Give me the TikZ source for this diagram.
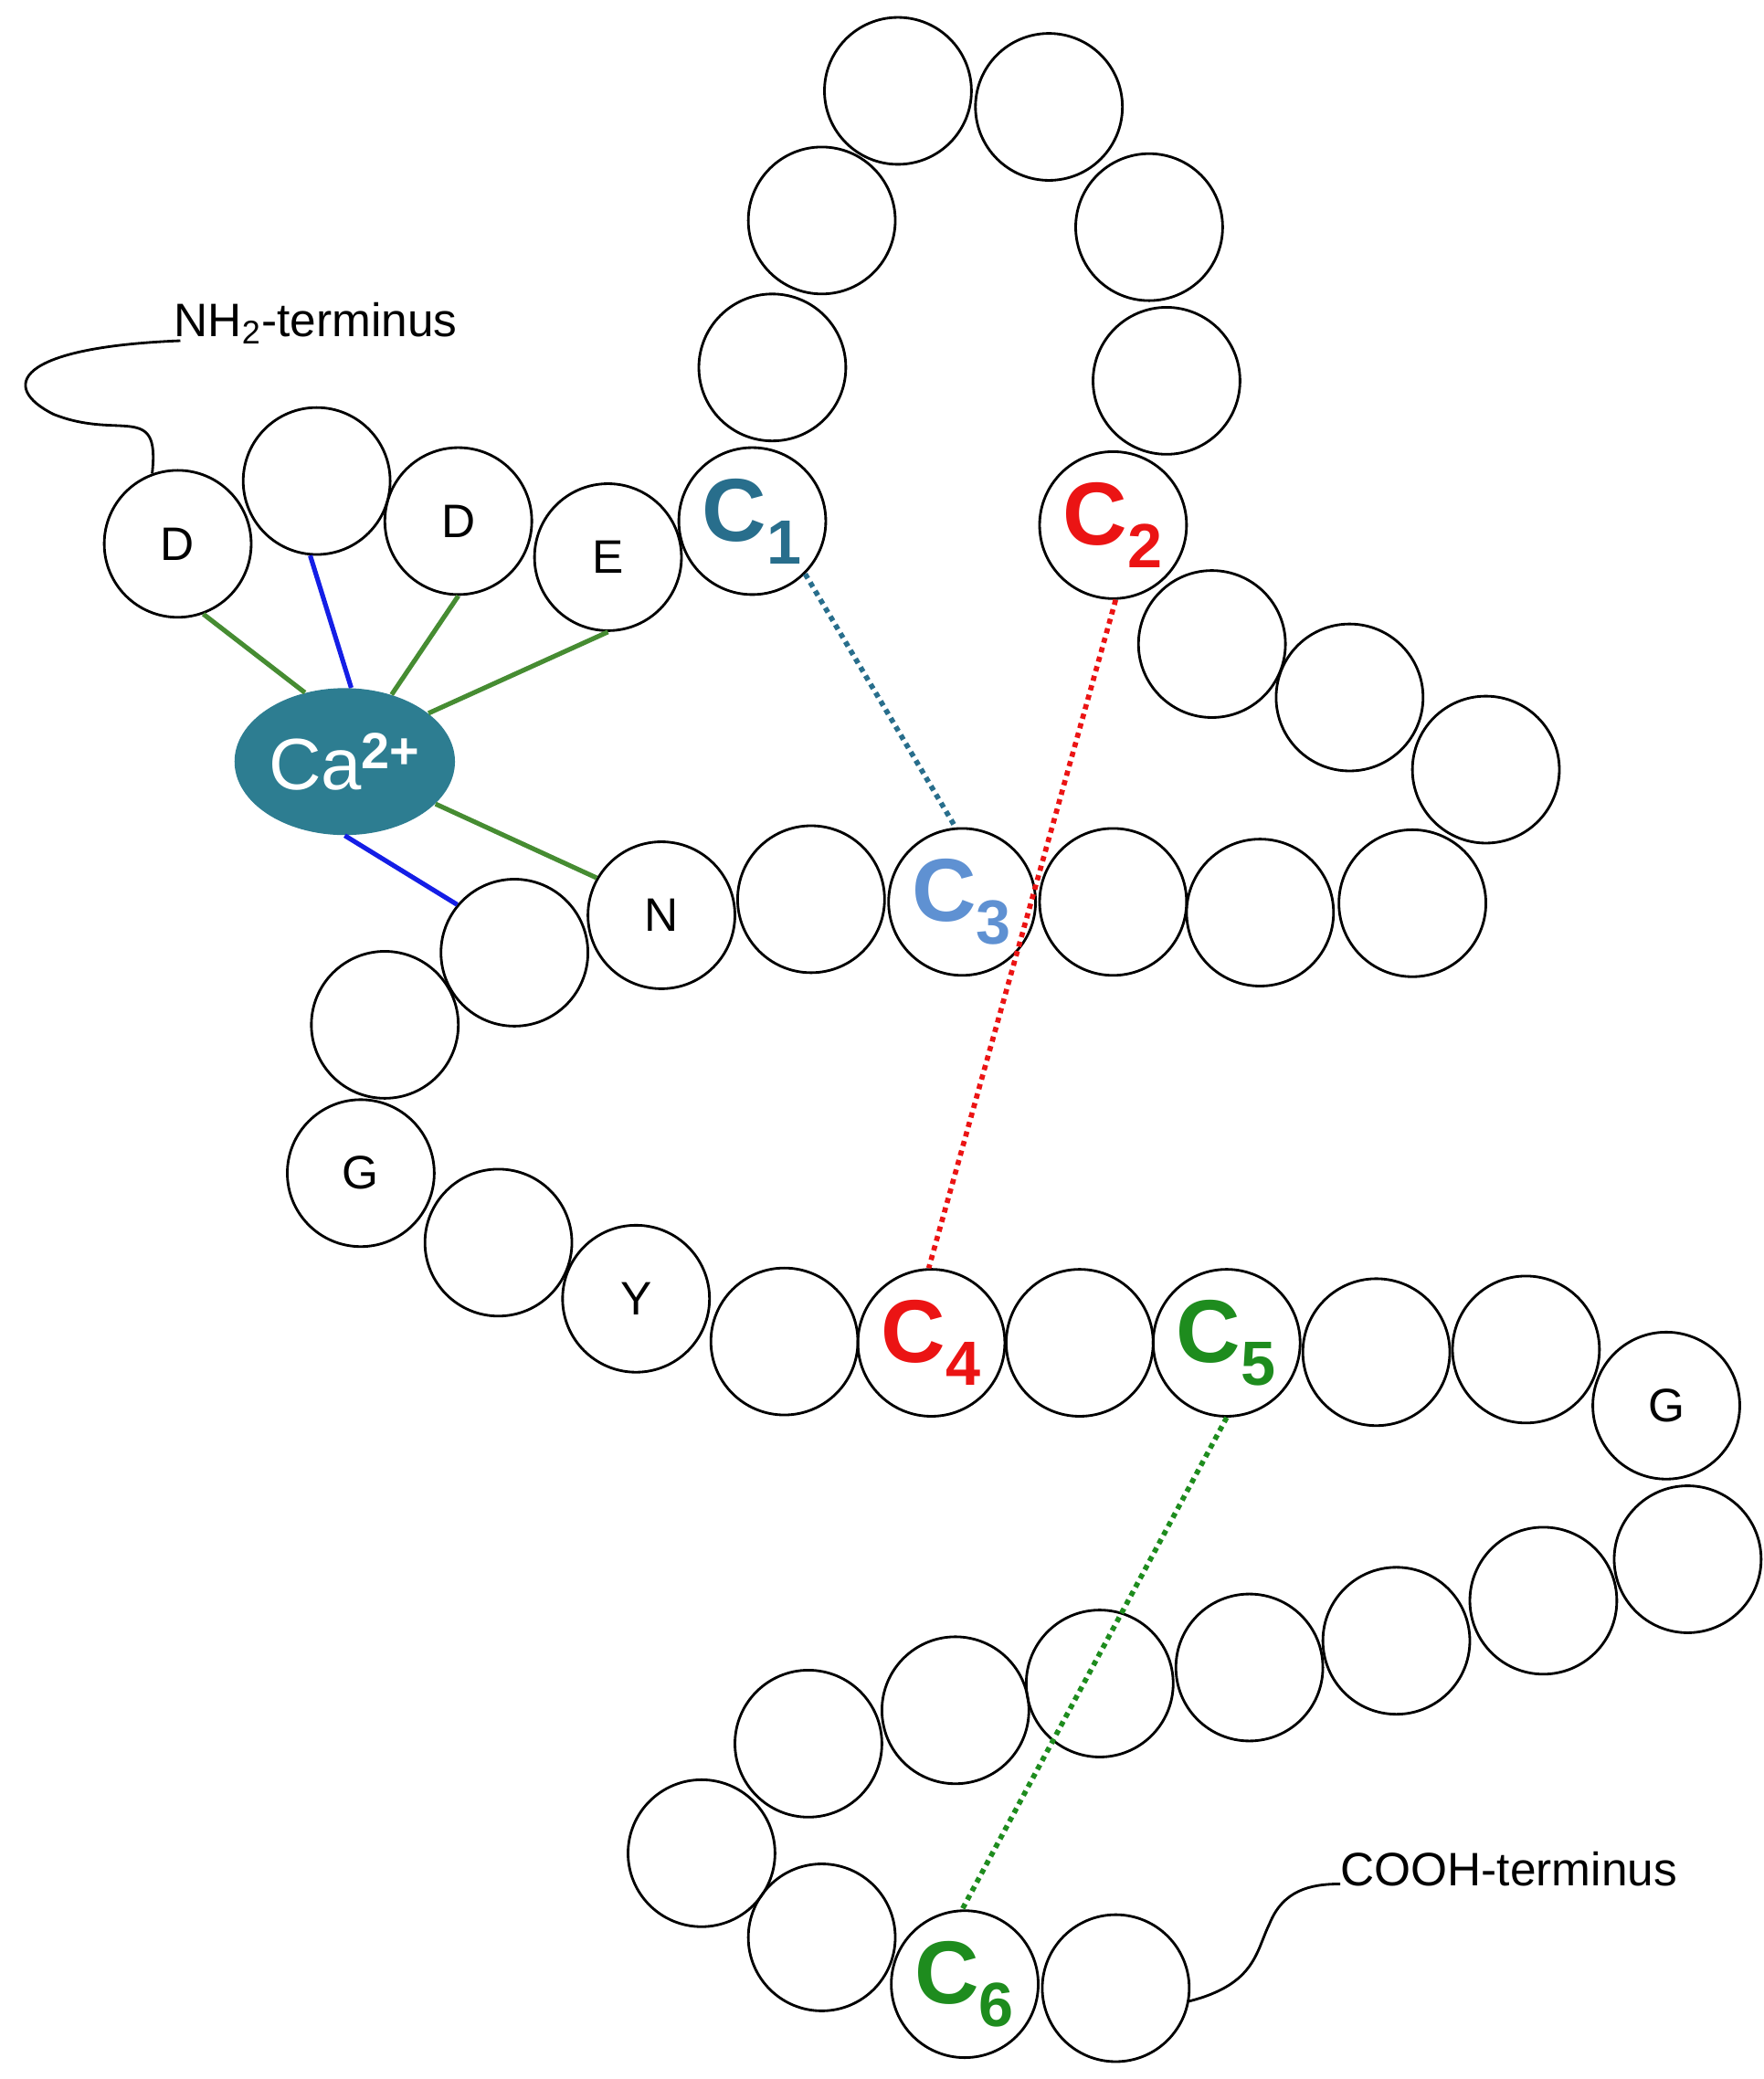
\documentclass[tikz,border=0pt]{standalone}
\usepackage{fontspec}
\setmainfont{Liberation Sans}
\usetikzlibrary{shapes.geometric}
\begin{document}
\begin{tikzpicture}[x=0.02cm,y=-0.02cm,
 res/.style={draw,circle,minimum size=2.2cm,inner sep=0pt,line width=1.1pt,font=\fontsize{20}{22}\selectfont},
 grn/.style={line width=2pt,color={rgb,255:red,70;green,140;blue,50}},
 blu/.style={line width=2pt,color={rgb,255:red,20;green,30;blue,230}},
 dot/.style={line width=2.2pt,dotted}]
\definecolor{cone}{RGB}{40,110,140}
\definecolor{cthree}{RGB}{95,145,210}
\definecolor{cred}{RGB}{235,20,20}
\definecolor{cgreen}{RGB}{30,140,30}
\definecolor{teal1}{RGB}{45,125,145}
\useasboundingbox (0,0) rectangle (1320,1556);
% left residues
\node[res] (d1) at (133,407) {D};
\node[res] (l2) at (237,360) {};
\node[res] (d2) at (343,390) {D};
\node[res] (e1) at (455,417) {E};
% top loop
\node[res] (r1) at (672,68) {};
\node[res] (r2) at (785,80) {};
\node[res] (r3) at (615,165) {};
\node[res] (r4) at (860,170) {};
\node[res] (r5) at (578,275) {};
\node[res] (r6) at (873,285) {};
\node[res,text=cone] (c1) at (563,390) {\fontsize{38}{40}\selectfont\bfseries C\textsubscript{1}};
\node[res,text=cred] (c2) at (833,393) {\fontsize{38}{40}\selectfont\bfseries C\textsubscript{2}};
\node[res] (r9) at (907,482) {};
\node[res] (r10) at (1010,522) {};
\node[res] (r11) at (1112,576) {};
\node[res] (r12) at (1057,676) {};
\node[res] (r13) at (943,683) {};
\node[res] (r14) at (833,675) {};
\node[res,text=cthree] (c3) at (720,675) {\fontsize{38}{40}\selectfont\bfseries C\textsubscript{3}};
\node[res] (r16) at (607,673) {};
\node[res] (n1) at (495,685) {N};
\node[res] (r18) at (385,713) {};
\node[res] (r19) at (288,767) {};
\node[res] (g1) at (270,878) {G};
\node[res] (r21) at (373,930) {};
\node[res] (y1) at (476,972) {Y};
\node[res] (r23) at (587,1004) {};
\node[res,text=cred] (c4) at (697,1005) {\fontsize{38}{40}\selectfont\bfseries C\textsubscript{4}};
\node[res] (r25) at (808,1005) {};
\node[res,text=cgreen] (c5) at (918,1005) {\fontsize{38}{40}\selectfont\bfseries C\textsubscript{5}};
\node[res] (r27) at (1030,1012) {};
\node[res] (r28) at (1142,1010) {};
\node[res] (g2) at (1247,1052) {G};
\node[res] (r30) at (1263,1167) {};
\node[res] (r31) at (1155,1198) {};
\node[res] (r32) at (1045,1228) {};
\node[res] (r33) at (935,1248) {};
\node[res] (r34) at (823,1260) {};
\node[res] (r35) at (715,1280) {};
\node[res] (r36) at (605,1305) {};
\node[res] (r37) at (525,1387) {};
\node[res] (r38) at (615,1450) {};
\node[res,text=cgreen] (c6) at (722,1485) {\fontsize{38}{40}\selectfont\bfseries C\textsubscript{6}};
\node[res] (r40) at (835,1488) {};
% calcium
\node[ellipse,fill=teal1,minimum width=3.3cm,minimum height=2.2cm,inner sep=0pt,text=white,font=\fontsize{31}{33}\selectfont] (ca) at (258,570) {Ca\textsuperscript{\bfseries 2+}};
\draw[grn] (d1.-70) -- (ca.120);
\draw[blu] (l2.-95) -- (ca.85);
\draw[grn] (d2.-90) -- (ca.55);
\draw[grn] (e1.-90) -- (ca.30);
\draw[grn] (ca.-25) -- (n1.150);
\draw[blu] (ca.-90) -- (r18.140);
% disulfide bonds
\draw[dot,color=cone] (c1.-45) -- (c3.95);
\draw[dot,color=cred] (c2.-88) -- (c4.92);
\draw[dot,color=cgreen] (c5.-90) -- (c6.92);
% termini
\coordinate (nt) at (135,255);
\coordinate (ct) at (1003,1410);
\draw[line width=1.1pt] (d1.110) .. controls (120,300) and (90,330) .. (40,310) .. controls (0,290) and (10,260) .. (nt);
\node[anchor=south west,inner sep=0pt,font=\fontsize{20}{22}\selectfont] (ntl) at (130,258) {NH\textsubscript{2}-terminus};
\draw[line width=1.1pt] (r40.-10) .. controls (940,1485) and (940,1460) .. (950,1440) .. controls (960,1415) and (980,1410) .. (ct);
\node[anchor=south west,inner sep=0pt,font=\fontsize{20}{22}\selectfont] (ctl) at (1003,1412) {COOH-terminus};
\end{tikzpicture}
\end{document}
